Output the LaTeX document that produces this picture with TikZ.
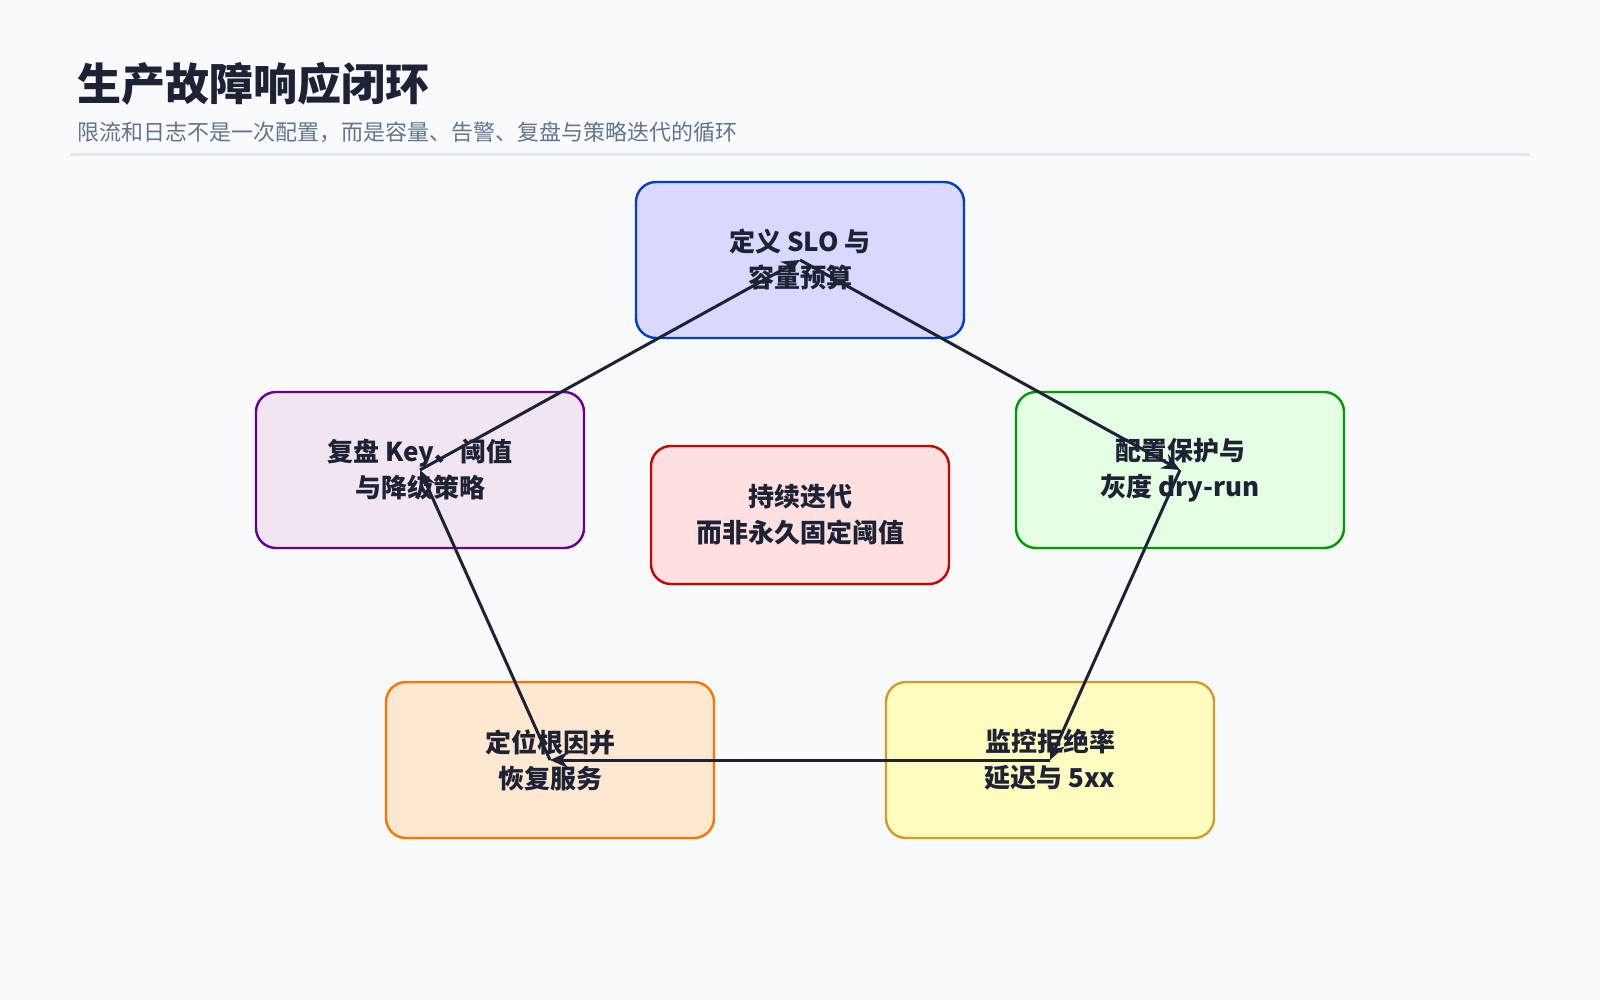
\documentclass[tikz,border=0pt]{standalone}
\usepackage{fontspec}
\setmainfont{Noto Sans CJK SC}
\usetikzlibrary{arrows.meta}
\definecolor{bgc}{HTML}{F8FAFC}
\definecolor{ink}{HTML}{1E2235}
\definecolor{subc}{HTML}{64748B}
\definecolor{rulec}{HTML}{E2E8F0}
\begin{document}
\begin{tikzpicture}[x=0.5pt,y=-0.5pt,
  box/.style={rectangle,rounded corners=10pt,line width=1.2pt,minimum width=164pt,minimum height=78pt,align=center,font=\fontsize{13}{18}\selectfont\bfseries,text=ink},
  loopedge/.style={draw=ink,line width=1.5pt,-{Stealth[length=9pt,width=8pt]}}]
\fill[bgc] (0,0) rectangle (1600,1000);
\node[anchor=west,font=\fontsize{22}{26}\selectfont\bfseries,text=ink] (title) at (70,84) {生产故障响应闭环};
\node[anchor=west,font=\fontsize{11}{14}\selectfont,text=subc] (sub) at (70,132) {限流和日志不是一次配置，而是容量、告警、复盘与策略迭代的循环};
\draw[rulec,line width=1.5pt] (70,155) -- (1530,155);

\node[box,draw=blue!70!cyan!80!black,fill=blue!15!white] (s1) at (800,260) {定义 SLO 与\\容量预算};
\node[box,draw=green!60!black,fill=green!10!white] (s2) at (1180,470) {配置保护与\\灰度 dry-run};
\node[box,draw=yellow!70!red!80!black,fill=yellow!25!white] (s3) at (1050,760) {监控拒绝率\\延迟与 5xx};
\node[box,draw=orange!90!red,fill=orange!18!white] (s4) at (550,760) {定位根因并\\恢复服务};
\node[box,draw=violet!80!blue,fill=violet!10!white] (s5) at (420,470) {复盘 Key、阈值\\与降级策略};
\node[box,draw=red!80!black,fill=red!12!white,minimum width=149pt,minimum height=69pt] (core) at (800,515) {持续迭代\\而非永久固定阈值};

\draw[loopedge] (s1.center) -- (s2.center);
\draw[loopedge] (s2.center) -- (s3.center);
\draw[loopedge] (s3.center) -- (s4.center);
\draw[loopedge] (s4.center) -- (s5.center);
\draw[loopedge] (s5.center) -- (s1.center);
\end{tikzpicture}
\end{document}
